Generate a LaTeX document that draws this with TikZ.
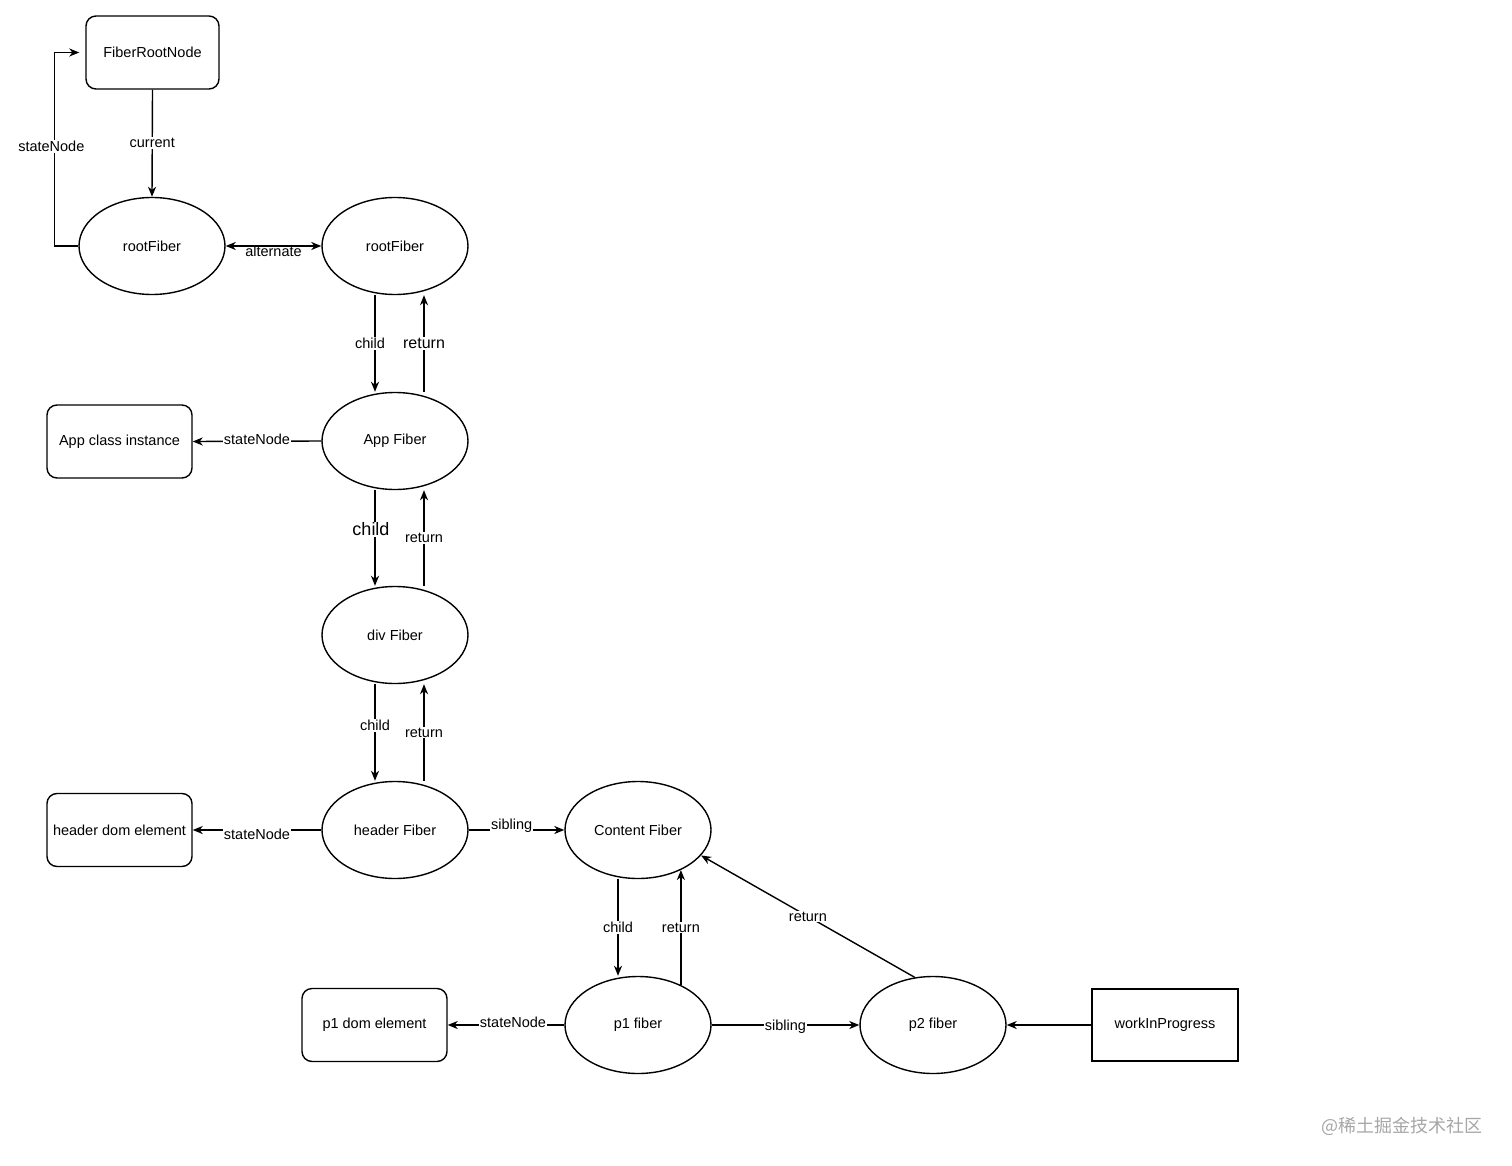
\documentclass[tikz,border=0pt]{standalone}
\usepackage{fontspec}
\setmainfont{Liberation Sans}
\newfontfamily\cjkfont{Noto Sans CJK SC}
\usetikzlibrary{arrows.meta,shapes.geometric}
\begin{document}
\begin{tikzpicture}[x=1pt,y=-1pt,
  txt/.style={font=\fontsize{14.5}{17}\selectfont},
  fib/.style={draw, ellipse, line width=1.4pt, minimum width=146pt, minimum height=97pt, inner sep=0pt, txt},
  rbox/.style={draw, rounded corners=10pt, line width=1.4pt, minimum width=145pt, minimum height=73pt, inner sep=0pt, txt},
  sbox/.style={draw, line width=1.4pt, minimum width=146pt, minimum height=72pt, inner sep=0pt, txt},
  tip/.tip={Stealth[length=10pt,width=8pt,inset=3pt]},
  arr/.style={-tip, line width=1.4pt},
  lbl/.style={fill=white, inner sep=1pt, txt},
]
\useasboundingbox (0,0) rectangle (1512,1166);

% nodes
\node[rbox, minimum width=133pt] (frn) at (152.5,52.5) {FiberRootNode};
\node[fib] (rf1) at (152,246) {rootFiber};
\node[fib] (rf2) at (395,246) {rootFiber};
\node[fib] (app) at (395,441) {App Fiber};
\node[fib] (div) at (395,635) {div Fiber};
\node[fib] (hdr) at (395,830) {header Fiber};
\node[fib] (cf) at (638,830) {Content Fiber};
\node[fib] (p1) at (638,1025) {p1 fiber};
\node[fib] (p2) at (933,1025) {p2 fiber};
\node[rbox] (aci) at (119.5,441.5) {App class instance};
\node[rbox] (hde) at (119.5,830) {header dom element};
\node[rbox] (pde) at (374.5,1025) {p1 dom element};
\node[sbox] (wip) at (1165,1025) {workInProgress};

% connectors
\draw[arr] (frn.south) -- node[lbl] {current} (rf1.north);
\draw[arr] (rf1.west) -- ++(-24,0) |- node[lbl, pos=0.25, xshift=-3pt, yshift=3pt] {stateNode} ([xshift=-6pt]frn.west);
\draw[tip-tip, line width=1.4pt] (rf1.east) -- node[txt, yshift=-5pt, inner sep=0pt] {alternate} (rf2.west);

\draw[arr] ([xshift=-20pt]rf2.south) -- node[lbl, xshift=-5pt] {child} ([xshift=-20pt]app.north);
\draw[arr] ([xshift=29pt]app.north) -- node[lbl, font=\fontsize{16}{18}\selectfont] {return} ([xshift=29pt]rf2.south);
\draw[arr] (app.west) -- node[lbl, yshift=2pt] {stateNode} (aci.east);

\draw[arr] ([xshift=-20pt]app.south) -- node[lbl, pos=0.41, xshift=-4pt, font=\fontsize{18}{20}\selectfont] {child} ([xshift=-20pt]div.north);
\draw[arr] ([xshift=29pt]div.north) -- node[lbl] {return} ([xshift=29pt]app.south);

\draw[arr] ([xshift=-20pt]div.south) -- node[lbl, pos=0.43] {child} ([xshift=-20pt]hdr.north);
\draw[arr] ([xshift=29pt]hdr.north) -- node[lbl] {return} ([xshift=29pt]div.south);

\draw[arr] (hdr.west) -- node[lbl, yshift=-4pt] {stateNode} (hde.east);
\draw[arr] (hdr.east) -- node[lbl, pos=0.45, yshift=4pt] {sibling} (cf.west);

\draw[arr] ([xshift=-20pt]cf.south) -- node[lbl] {child} ([xshift=-20pt]p1.north);
\draw[arr] (p1.43) -- node[lbl] {return} (cf.-43);

\draw[arr] (p1.west) -- node[lbl, pos=0.44, yshift=3pt] {stateNode} (pde.east);
\draw[arr] (p1.east) -- node[lbl, yshift=-2pt] {sibling} (p2.west);
\draw[arr] (p2.111) -- node[lbl] {return} (cf.-22);
\draw[arr] (wip.west) -- (p2.east);

% watermark
\node[font=\cjkfont\fontsize{18}{20}\selectfont, text=black!35, inner sep=0pt] (wm) at (1402,1126) {@稀土掘金技术社区};
\end{tikzpicture}
\end{document}
